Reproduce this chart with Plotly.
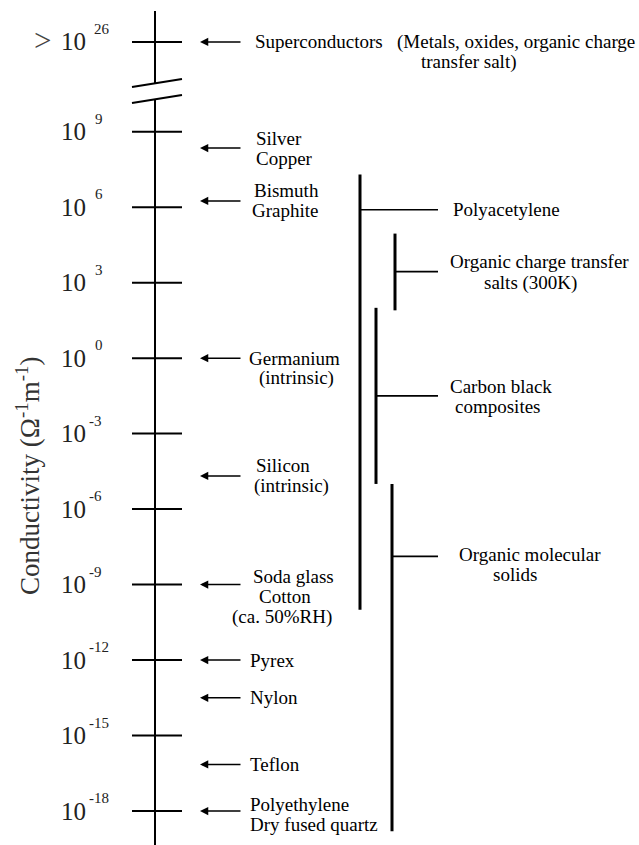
import plotly.graph_objects as go

# ---------------- data ----------------
TICK_EXPS = [9, 6, 3, 0, -3, -6, -9, -12, -15, -18]
SUPER_LABEL_EXP = "26"          # superconductors: > 10^26 (shown above the axis break)

MATERIALS = ["Silver\nCopper", "Bismuth\nGraphite", "Germanium\n(intrinsic)",
             "Silicon\n(intrinsic)", "Soda glass\nCotton\n(ca. 50%RH)", "Pyrex",
             "Nylon", "Teflon", "Polyethylene\nDry fused quartz"]
MATERIAL_LOG_SIGMA = [8.35, 6.25, 0.0, -4.68, -9.0, -12.0, -13.5, -16.15, -18.0]

GROUPS = ["Polyacetylene", "Organic charge transfer\nsalts (300K)",
          "Carbon black\ncomposites", "Organic molecular\nsolids"]
GROUP_LOW = [-10.0, 1.9, -5.0, -18.8]
GROUP_HIGH = [7.3, 4.95, 2.0, -5.0]
GROUP_MARK = [5.9, 3.44, -1.5, -7.88]

# ---------------- layout / style ----------------
W, H = 639, 845
Y_RANGE = [-19.35, 14.234]
SUPER_POS = 12.565            # display position of the >10^26 row (above break)
AXIS_TOP = 13.8
BREAK_TOP, BREAK_BOT = 10.924, 10.288
AXIS_X = 155
TICK_X = (132, 182)
ARROW_HEAD_X, ARROW_TAIL_X = 200, 242
SERIF = "Liberation Serif"
LBL = 19
INK = "#000"

MAT_LINES = [[(254, 10), (254, -10)], [(252, 10), (250, -10)], [(247, 0), (257, -20)],
             [(254, 10), (252, -10)], [(251, 8), (257, -12), (230, -32)], [(248, 0)],
             [(248, 0)], [(248, 0)], [(248, 7), (248, -13)]]
GROUP_BAR_X = [360, 395, 376, 392]
GROUP_STUB_END = 438
GROUP_LINES = [[(451, 0)], [(448, 10), (482, -11)], [(448, 9), (453, -11)],
               [(457, 2), (491, -18)]]

fig = go.Figure()


def line(xs, ys, w=2):
    fig.add_trace(go.Scatter(x=xs, y=ys, mode="lines",
                             line=dict(color=INK, width=w),
                             hoverinfo="skip", showlegend=False))


def text(x, y, s, size=LBL, xanchor="left", yshift=0, color=INK, angle=0):
    fig.add_annotation(x=x, y=y, text=s, showarrow=False, xanchor=xanchor,
                       yanchor="middle", yshift=yshift, textangle=angle,
                       font=dict(family=SERIF, size=size, color=color))


def arrow(y):
    fig.add_annotation(x=ARROW_HEAD_X, y=y, ax=ARROW_TAIL_X, ay=y,
                       xref="x", yref="y", axref="x", ayref="y", text="",
                       showarrow=True, arrowhead=2, arrowsize=1.1,
                       arrowwidth=1.5, arrowcolor=INK)


# main axis with break
line([AXIS_X, AXIS_X], [AXIS_TOP, BREAK_TOP])
line([AXIS_X, AXIS_X], [BREAK_BOT, Y_RANGE[0] - 1])
line([132, 182], [10.777, 11.095], 2)
line([132, 182], [10.141, 10.459], 2)

# ticks and tick labels
for e in TICK_EXPS:
    line(list(TICK_X), [e, e])
    text(59, e, "10", size=25, color="#222")
    sup = str(e)
    text(87 if e < 0 else 93, e, sup, size=15, yshift=13, color="#222")
line(list(TICK_X), [SUPER_POS, SUPER_POS])
text(53, SUPER_POS, "&gt;", size=31, xanchor="right", yshift=1, color="#444")
text(59, SUPER_POS, "10", size=25, color="#222")
text(92, SUPER_POS, SUPER_LABEL_EXP, size=15, yshift=13, color="#222")

# axis title
text(28, -4.68, "Conductivity (Ω<sup>-1</sup>m<sup>-1</sup>)", size=27,
     xanchor="center", color="#333", angle=-90)

# superconductors
arrow(SUPER_POS)
text(253, SUPER_POS, "Superconductors")
text(395, SUPER_POS, "(Metals, oxides, organic charge")
text(419, SUPER_POS, "transfer salt)", yshift=-20)

# materials
for name, val, lay in zip(MATERIALS, MATERIAL_LOG_SIGMA, MAT_LINES):
    arrow(val)
    for part, (x, dy) in zip(name.split("\n"), lay):
        text(x, val, part, yshift=dy)

# material classes (ranges)
for name, lo, hi, mk, bx, lay in zip(GROUPS, GROUP_LOW, GROUP_HIGH, GROUP_MARK,
                                     GROUP_BAR_X, GROUP_LINES):
    line([bx, bx], [lo, hi], 3)
    line([bx, GROUP_STUB_END], [mk, mk], 1.6)
    for part, (x, dy) in zip(name.split("\n"), lay):
        text(x, mk, part, yshift=dy)

fig.update_layout(width=W, height=H, margin=dict(l=0, r=0, t=0, b=0),
                  paper_bgcolor="white", plot_bgcolor="white",
                  xaxis=dict(range=[0, W], visible=False, fixedrange=True),
                  yaxis=dict(range=Y_RANGE, visible=False, fixedrange=True),
                  showlegend=False)
fig.write_html("out.html", config={"displayModeBar": False})
